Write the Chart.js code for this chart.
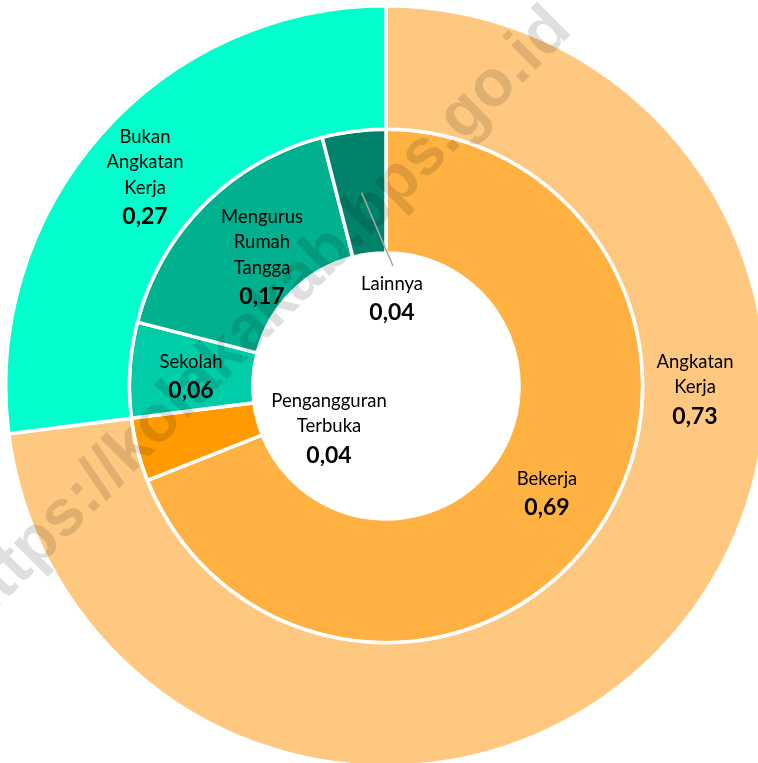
<!DOCTYPE html>
<html lang="id">
<head>
    <meta charset="UTF-8">
    <title>Angkatan Kerja</title>
    <script src="https://cdn.jsdelivr.net/npm/chart.js@4.4.0/dist/chart.umd.min.js"></script>
    <style>
        html, body {
            margin: 0;
            padding: 0;
            background: #ffffff;
            overflow: hidden;
        }
        .chart-box {
            position: absolute;
            left: 0;
            top: 0;
            width: 772px;
            height: 772px;
        }
    </style>
</head>
<body>
    <div class="chart-box">
        <canvas id="donut"></canvas>
    </div>

    <script>
        // outer ring
        const outerLabels = ['Angkatan Kerja', 'Bukan Angkatan Kerja'];
        const outerValues = [0.73, 0.27];
        const outerColors = ['#FFC880', '#00FFCC'];

        // inner ring
        const innerLabels = ['Bekerja', 'Pengangguran Terbuka', 'Sekolah', 'Mengurus Rumah Tangga', 'Lainnya'];
        const innerValues = [0.69, 0.04, 0.06, 0.17, 0.04];
        const innerColors = ['#FFB142', '#FF9A00', '#00CCA8', '#00B08E', '#00836A'];

        const watermark = 'https://kolakakab.bps.go.id';

        // where each label block sits, relative to the chart centre
        const outerLabelPos = [
            {dx: 309, dy: -24},
            {dx: -241, dy: -249}
        ];
        const innerLabelPos = [
            {dx: 161, dy: 93},
            {dx: -57, dy: 15},
            {dx: -195, dy: -24},
            {dx: -124, dy: -169},
            {dx: 6, dy: -102}
        ];

        const NAME_FONT = '18.5px Lato';
        const VALUE_FONT = 'bold 23px Lato';

        function fmt(v) {
            return v.toFixed(2).replace('.', ',');
        }

        function drawBlock(ctx, x, y, name, value) {
            const words = name.split(' ');
            ctx.font = NAME_FONT;
            words.forEach((w, i) => ctx.fillText(w, x, y + i * 25.5));
            ctx.font = VALUE_FONT;
            ctx.fillText(fmt(value), x, y + (words.length - 1) * 25.5 + 29);
        }

        const labelPlugin = {
            id: 'sliceLabels',
            afterDraw(chart) {
                const ctx = chart.ctx;
                const first = chart.getDatasetMeta(0).data[0];
                const cx = first.x, cy = first.y;

                // watermark
                ctx.save();
                ctx.font = 'bold 100px "Liberation Sans"';
                const w100 = ctx.measureText(watermark).width;
                const size = 100 * 845 / w100;
                ctx.font = 'bold ' + size.toFixed(1) + 'px "Liberation Sans"';
                ctx.translate(262, 318);
                ctx.rotate(-Math.PI / 4);
                ctx.fillStyle = 'rgba(0, 0, 0, 0.125)';
                ctx.textAlign = 'center';
                ctx.textBaseline = 'middle';
                ctx.fillText(watermark, 0, 0);
                ctx.restore();

                // leader line for Lainnya
                const lainnya = chart.getDatasetMeta(1).data[4];
                const p = lainnya.getCenterPoint();
                ctx.save();
                ctx.strokeStyle = '#A6A6A6';
                ctx.lineWidth = 1.5;
                ctx.beginPath();
                ctx.moveTo(p.x, p.y);
                ctx.lineTo(cx + 7, cy - 120);
                ctx.stroke();
                ctx.restore();

                ctx.save();
                ctx.fillStyle = '#000000';
                ctx.textAlign = 'center';
                ctx.textBaseline = 'middle';
                outerLabels.forEach((name, i) => {
                    drawBlock(ctx, cx + outerLabelPos[i].dx, cy + outerLabelPos[i].dy, name, outerValues[i]);
                });
                innerLabels.forEach((name, i) => {
                    drawBlock(ctx, cx + innerLabelPos[i].dx, cy + innerLabelPos[i].dy, name, innerValues[i]);
                });
                ctx.restore();
            }
        };

        new Chart(document.getElementById('donut'), {
            type: 'doughnut',
            data: {
                labels: innerLabels,
                datasets: [
                    {
                        label: 'Status',
                        data: outerValues,
                        backgroundColor: outerColors,
                        borderColor: '#ffffff',
                        borderWidth: 3.5,
                        hoverOffset: 0
                    },
                    {
                        label: 'Kegiatan',
                        data: innerValues,
                        backgroundColor: innerColors,
                        borderColor: '#ffffff',
                        borderWidth: 3.5,
                        hoverOffset: 0
                    }
                ]
            },
            options: {
                responsive: true,
                maintainAspectRatio: false,
                animation: false,
                cutout: '35%',
                layout: {
                    padding: 4
                },
                plugins: {
                    legend: {display: false},
                    tooltip: {enabled: false}
                }
            },
            plugins: [labelPlugin]
        });
    </script>
</body>
</html>
